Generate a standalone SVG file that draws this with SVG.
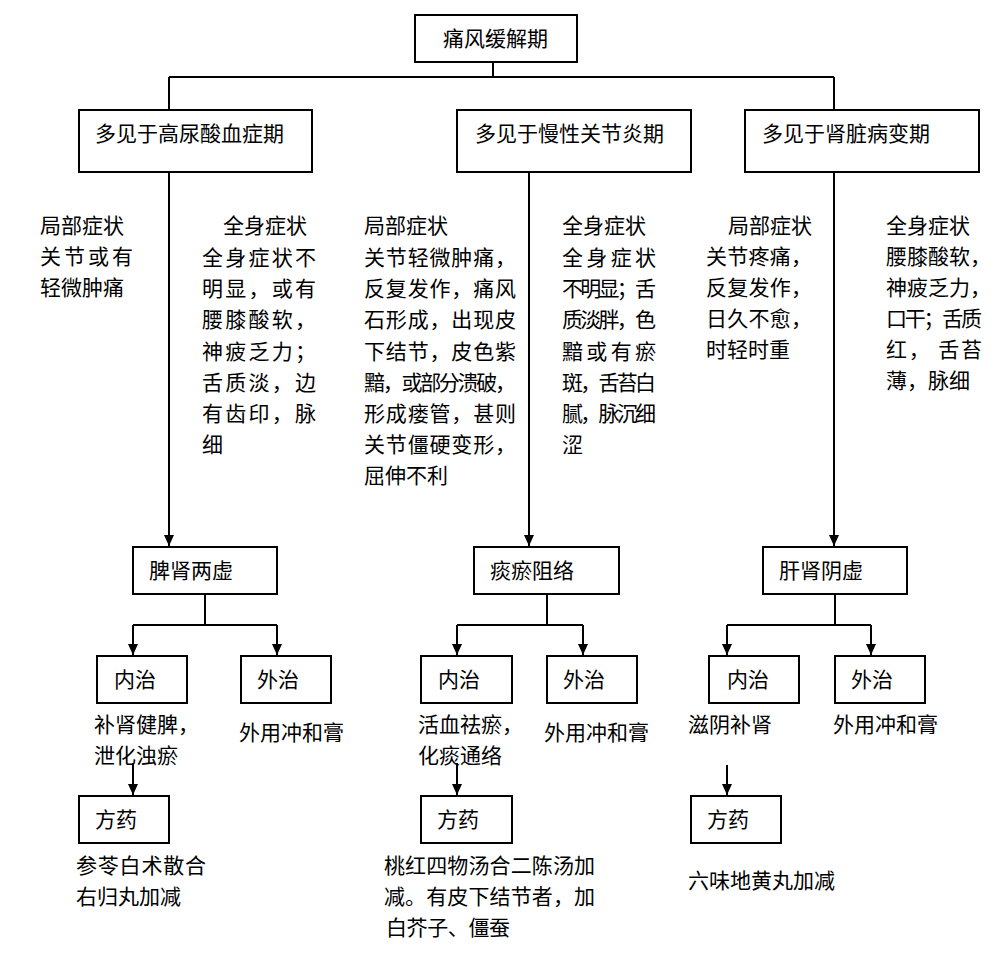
<svg xmlns="http://www.w3.org/2000/svg" width="997" height="954" viewBox="0 0 997 954">
<style>
text{font-family:"Noto Sans CJK SC","Liberation Serif",serif;font-size:21px;fill:#000}
rect{fill:#fff;stroke:#000;stroke-width:2}
.c path{fill:none;stroke:#000;stroke-width:2}
</style>
<defs>
<marker id="ah" markerWidth="11" markerHeight="10" refX="11" refY="5" orient="auto" markerUnits="userSpaceOnUse"><path d="M0,0 L11,5 L0,10 z" fill="#000"/></marker>
</defs>
<rect x="0" y="0" width="997" height="954" style="stroke:none"/>
<g class="c" id="connectors">
<path d="M493,62 V77 M169,77 H834 M169,77 V110 M834,77 V110"/>
<path d="M169,172 V546" marker-end="url(#ah)"/>
<path d="M529,172 V546" marker-end="url(#ah)"/>
<path d="M834,172 V546" marker-end="url(#ah)"/>
<path d="M205,594 V625 M133,625 H277"/>
<path d="M133,625 V655" marker-end="url(#ah)"/>
<path d="M277,625 V655" marker-end="url(#ah)"/>
<path d="M133,763 V795" marker-end="url(#ah)"/>
<path d="M547,594 V625 M457,625 H583"/>
<path d="M457,625 V655" marker-end="url(#ah)"/>
<path d="M583,625 V655" marker-end="url(#ah)"/>
<path d="M457,763 V795" marker-end="url(#ah)"/>
<path d="M835,594 V625 M727,625 H871"/>
<path d="M727,625 V655" marker-end="url(#ah)"/>
<path d="M871,625 V655" marker-end="url(#ah)"/>
<path d="M727,765 V795" marker-end="url(#ah)"/>
</g>
<g id="root"><rect x="415" y="15" width="162" height="47"/><text x="443" y="46">痛风缓解期</text></g>
<g id="p1"><rect x="79" y="110" width="233" height="62"/><text x="95" y="141">多见于高尿酸血症期</text></g>
<g id="p2"><rect x="457" y="110" width="234" height="62"/><text x="475" y="141">多见于慢性关节炎期</text></g>
<g id="p3"><rect x="745" y="110" width="234" height="62"/><text x="762" y="141">多见于肾脏病变期</text></g>
<g id="s1">
<text x="40" y="233">局部症状</text>
<text x="40" y="264" textLength="93" lengthAdjust="spacing">关节或有</text>
<text x="40" y="295">轻微肿痛</text>
</g>
<g id="s2">
<text x="223" y="233">全身症状</text>
<text x="202" y="265" textLength="114" lengthAdjust="spacing">全身症状不</text>
<text x="202" y="296" textLength="114" lengthAdjust="spacing">明显，或有</text>
<text x="202" y="327" textLength="114" lengthAdjust="spacing">腰膝酸软，</text>
<text x="202" y="359" textLength="114" lengthAdjust="spacing">神疲乏力；</text>
<text x="202" y="390" textLength="114" lengthAdjust="spacing">舌质淡，边</text>
<text x="202" y="421" textLength="114" lengthAdjust="spacing">有齿印，脉</text>
<text x="202" y="452">细</text>
</g>
<g id="s3">
<text x="364" y="233">局部症状</text>
<text x="364" y="265" textLength="152" lengthAdjust="spacing">关节轻微肿痛，</text>
<text x="364" y="296" textLength="152" lengthAdjust="spacing">反复发作，痛风</text>
<text x="364" y="327" textLength="152" lengthAdjust="spacing">石形成，出现皮</text>
<text x="364" y="359" textLength="152" lengthAdjust="spacing">下结节，皮色紫</text>
<text x="364" y="390" textLength="152" lengthAdjust="spacing">黯，或部分溃破，</text>
<text x="364" y="421" textLength="152" lengthAdjust="spacing">形成瘘管，甚则</text>
<text x="364" y="452" textLength="152" lengthAdjust="spacing">关节僵硬变形，</text>
<text x="364" y="483">屈伸不利</text>
</g>
<g id="s4">
<text x="562" y="233">全身症状</text>
<text x="562" y="265" textLength="94" lengthAdjust="spacing">全身症状</text>
<text x="562" y="296" textLength="94" lengthAdjust="spacing">不明显；舌</text>
<text x="562" y="327" textLength="94" lengthAdjust="spacing">质淡胖，色</text>
<text x="562" y="359" textLength="94" lengthAdjust="spacing">黯或有瘀</text>
<text x="562" y="390" textLength="94" lengthAdjust="spacing">斑，舌苔白</text>
<text x="562" y="421" textLength="94" lengthAdjust="spacing">腻，脉沉细</text>
<text x="562" y="452">涩</text>
</g>
<g id="s5">
<text x="728" y="233">局部症状</text>
<text x="706" y="264" textLength="106" lengthAdjust="spacing">关节疼痛，</text>
<text x="706" y="295" textLength="106" lengthAdjust="spacing">反复发作，</text>
<text x="706" y="326" textLength="106" lengthAdjust="spacing">日久不愈，</text>
<text x="706" y="357">时轻时重</text>
</g>
<g id="s6">
<text x="886" y="233">全身症状</text>
<text x="886" y="264">腰膝酸软，</text>
<text x="886" y="295">神疲乏力，</text>
<text x="886" y="326" textLength="96" lengthAdjust="spacing">口干；舌质</text>
<text x="886" y="357" textLength="96" lengthAdjust="spacing">红， 舌苔</text>
<text x="886" y="388">薄，脉细</text>
</g>
<g id="d1"><rect x="133" y="547" width="144" height="47"/><text x="149" y="578">脾肾两虚</text></g>
<g id="d2"><rect x="474" y="547" width="145" height="47"/><text x="490" y="578">痰瘀阻络</text></g>
<g id="d3"><rect x="763" y="547" width="144" height="47"/><text x="779" y="578">肝肾阴虚</text></g>
<g id="n1"><rect x="97" y="656" width="90" height="47"/><text x="114" y="687">内治</text></g>
<g id="w1"><rect x="241" y="656" width="90" height="47"/><text x="257" y="687">外治</text></g>
<g id="n2"><rect x="421" y="656" width="91" height="47"/><text x="438" y="687">内治</text></g>
<g id="w2"><rect x="547" y="656" width="90" height="47"/><text x="563" y="687">外治</text></g>
<g id="n3"><rect x="709" y="656" width="90" height="47"/><text x="727" y="687">内治</text></g>
<g id="w3"><rect x="835" y="656" width="90" height="47"/><text x="851" y="687">外治</text></g>
<g id="t1"><text x="94" y="732">补肾健脾，</text><text x="94" y="763">泄化浊瘀</text></g>
<g id="e1"><text x="239" y="740">外用冲和膏</text></g>
<g id="t2"><text x="418" y="732">活血祛瘀，</text><text x="418" y="763">化痰通络</text></g>
<g id="e2"><text x="544" y="740">外用冲和膏</text></g>
<g id="t3"><text x="688" y="732">滋阴补肾</text></g>
<g id="e3"><text x="833" y="732">外用冲和膏</text></g>
<g id="f1"><rect x="79" y="796" width="90" height="47"/><text x="95" y="827">方药</text></g>
<g id="f2"><rect x="421" y="796" width="91" height="47"/><text x="437" y="827">方药</text></g>
<g id="f3"><rect x="691" y="796" width="90" height="47"/><text x="707" y="827">方药</text></g>
<g id="r1"><text x="76" y="873" textLength="130" lengthAdjust="spacing">参苓白术散合</text><text x="76" y="904">右归丸加减</text></g>
<g id="r2"><text x="384" y="873" textLength="211" lengthAdjust="spacing">桃红四物汤合二陈汤加</text><text x="384" y="904" textLength="211" lengthAdjust="spacing">减。有皮下结节者，加</text><text x="386" y="935" textLength="124" lengthAdjust="spacing">白芥子、僵蚕</text></g>
<g id="r3"><text x="688" y="888">六味地黄丸加减</text></g>
</svg>
